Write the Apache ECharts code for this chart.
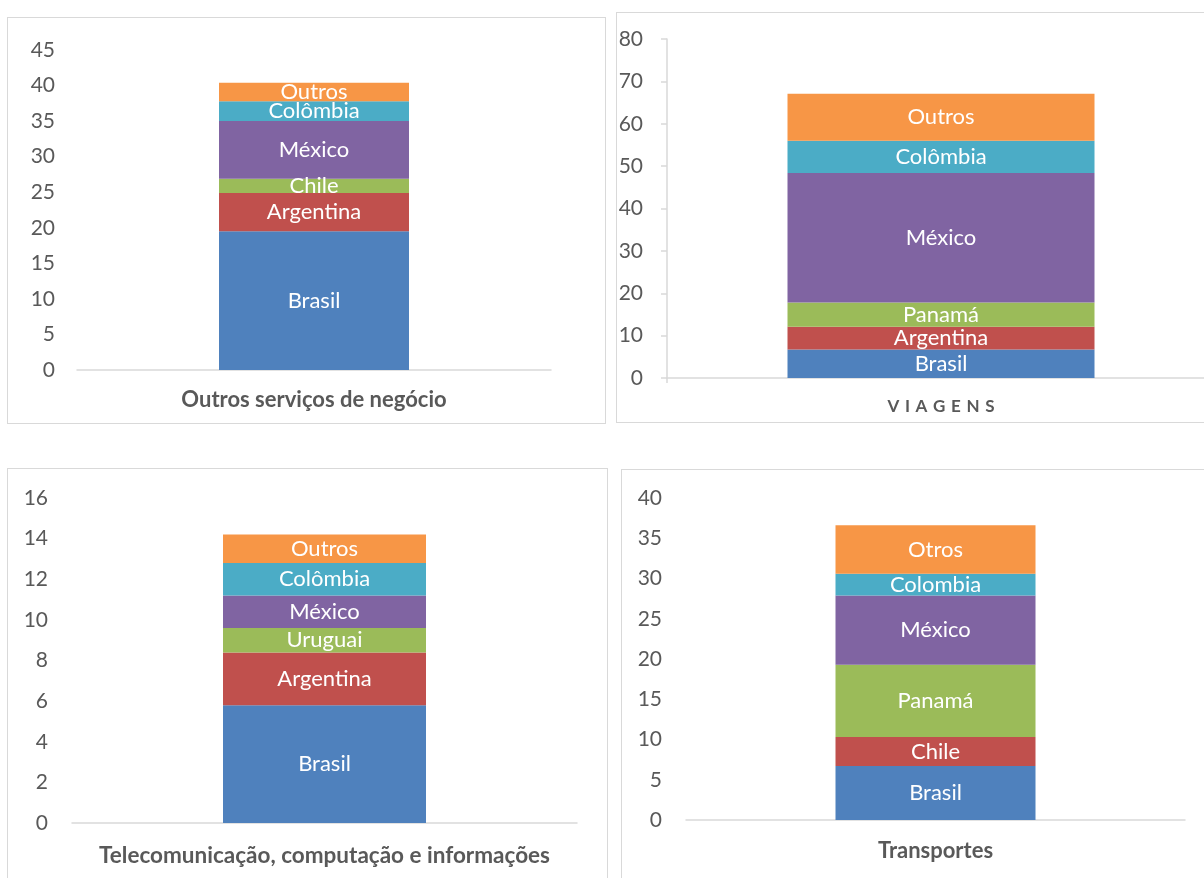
<!DOCTYPE html>
<html>
<head>
<meta charset="utf-8">
<script src="https://cdn.jsdelivr.net/npm/echarts@6/dist/echarts.min.js"></script>
<style>
html,body{margin:0;padding:0;width:1204px;height:878px;overflow:hidden;background:#fff;position:relative;}
.frame{position:absolute;border:1.5px solid #d9d9d9;box-sizing:border-box;}
#chart{position:absolute;left:0;top:0;width:1260px;height:878px;}
</style>
</head>
<body>
<div class="frame" style="left:7px;top:17px;width:599px;height:407px;"></div>
<div class="frame" style="left:616px;top:12px;width:620px;height:411px;"></div>
<div class="frame" style="left:7px;top:468px;width:601px;height:440px;"></div>
<div class="frame" style="left:621px;top:469px;width:620px;height:440px;"></div>
<div id="chart"></div>
<script>
// Panel 1
const cat1 = ['Outros serviços de negócio'];
const names1 = ['Brasil', 'Argentina', 'Chile', 'México', 'Colômbia', 'Outros'];
const vals1 = [19.5, 5.4, 2.0, 8.1, 2.8, 2.6];
const yTicks1 = {min: 0, max: 45, interval: 5};
// Panel 2
const cat2 = ['VIAGENS'];
const names2 = ['Brasil', 'Argentina', 'Panamá', 'México', 'Colômbia', 'Outros'];
const vals2 = [6.7, 5.4, 5.7, 30.6, 7.6, 11.1];
const yTicks2 = {min: 0, max: 80, interval: 10};
// Panel 3
const cat3 = ['Telecomunicação, computação e informações'];
const names3 = ['Brasil', 'Argentina', 'Uruguai', 'México', 'Colômbia', 'Outros'];
const vals3 = [5.8, 2.6, 1.2, 1.6, 1.6, 1.4];
const yTicks3 = {min: 0, max: 16, interval: 2};
// Panel 4
const cat4 = ['Transportes'];
const names4 = ['Brasil', 'Chile', 'Panamá', 'México', 'Colombia', 'Otros'];
const vals4 = [6.7, 3.6, 9.0, 8.6, 2.7, 6.0];
const yTicks4 = {min: 0, max: 40, interval: 5};

const colors = ['#4f81bd', '#c0504d', '#9bbb59', '#8064a2', '#4bacc6', '#f79646'];
const FONT = 'Lato, "Open Sans", sans-serif';

const panels = [
  {cat: cat1, names: names1, vals: vals1, ticks: yTicks1,
   grid: {left: 77, top: 50, width: 474, height: 320}, barWidth: 190, yLine: false,
   catStyle: {fontSize: 22, spaced: false}, catMargin: 19, labelMargin: 22},
  {cat: cat2, names: names2, vals: vals2, ticks: yTicks2,
   grid: {left: 667, top: 39, width: 548, height: 339}, barWidth: 307, yLine: true,
   catStyle: {fontSize: 17, spaced: true}, catMargin: 20, labelMargin: 24},
  {cat: cat3, names: names3, vals: vals3, ticks: yTicks3,
   grid: {left: 72, top: 498, width: 505, height: 325}, barWidth: 203, yLine: false,
   catStyle: {fontSize: 22.5, spaced: false}, catMargin: 21, labelMargin: 24},
  {cat: cat4, names: names4, vals: vals4, ticks: yTicks4,
   grid: {left: 686, top: 498, width: 499, height: 322}, barWidth: 200, yLine: false,
   catStyle: {fontSize: 22, spaced: false}, catMargin: 20, labelMargin: 24}
];

const option = {
  animation: false,
  textStyle: {fontFamily: FONT},
  grid: [], xAxis: [], yAxis: [], series: []
};

panels.forEach((p, i) => {
  option.grid.push(Object.assign({containLabel: false}, p.grid));
  option.xAxis.push({
    type: 'category', gridIndex: i, data: p.cat,
    axisLine: {show: true, lineStyle: {color: '#d9d9d9', width: 1.5}},
    axisTick: {show: p.yLine, length: 5, lineStyle: {color: '#d9d9d9', width: 1.5}},
    axisLabel: {color: '#595959', fontWeight: 'bold', fontFamily: FONT,
      fontSize: p.catStyle.fontSize, margin: p.catMargin,
      formatter: v => p.catStyle.spaced ? v.split('').join('\u2004') : v}
  });
  option.yAxis.push({
    type: 'value', gridIndex: i, min: p.ticks.min, max: p.ticks.max, interval: p.ticks.interval,
    axisLine: {show: p.yLine, lineStyle: {color: '#d9d9d9', width: 1.5}},
    axisTick: {show: p.yLine, length: 6, lineStyle: {color: '#d9d9d9', width: 1.5}},
    splitLine: {show: false},
    axisLabel: {color: '#595959', fontSize: 21, fontFamily: FONT, margin: p.labelMargin}
  });
  p.names.forEach((n, k) => {
    option.series.push({
      type: 'bar', name: n, stack: 'p' + i, xAxisIndex: i, yAxisIndex: i,
      barWidth: p.barWidth,
      itemStyle: {color: colors[k]},
      label: {show: true, position: 'inside', formatter: n, color: '#ffffff',
        fontSize: 22, fontFamily: FONT, textBorderWidth: 0},
      data: [p.vals[k]]
    });
  });
});

const chart = echarts.init(document.getElementById('chart'));
chart.setOption(option);
</script>
</body>
</html>
